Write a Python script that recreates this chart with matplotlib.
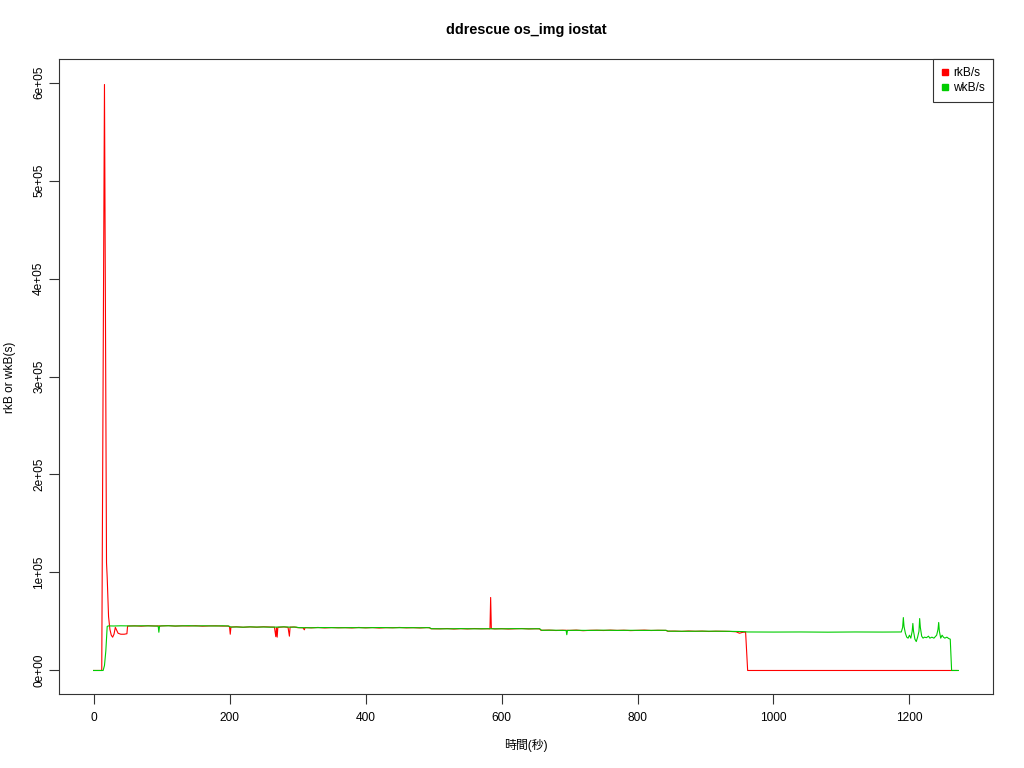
import matplotlib
matplotlib.use("Agg")
import matplotlib.pyplot as plt
from matplotlib.lines import Line2D
from matplotlib.ticker import FuncFormatter

plt.rcParams['font.family'] = ['Liberation Sans', 'Noto Sans CJK JP', 'DejaVu Sans']

title = "ddrescue os_img iostat"
xlabel = "時間(秒)"
ylabel = "rkB or wkB(s)"
series_names = ["rkB/s", "wkB/s"]
x_ticks = [0, 200, 400, 600, 800, 1000, 1200]
y_ticks = [0, 100000, 200000, 300000, 400000, 500000, 600000]

red_t = [0, 12, 16, 19, 20, 22, 24, 26, 28, 30, 32, 34, 36, 40, 45, 49, 50,
         60, 70, 80, 90, 100, 110, 120, 130, 140, 150, 160, 170, 180, 190, 198,
         200, 201, 202, 210, 220, 230, 240, 250, 260, 266, 268, 269, 270, 271, 280, 286, 288, 289, 295,
         300, 308, 310, 311, 320, 330, 340, 350, 360, 370, 380, 390, 400, 410, 420, 430, 440, 450, 460, 470, 480, 490, 494,
         496, 510, 520, 530, 540, 550, 560, 570, 580, 583, 584, 585, 590, 600, 610, 620, 630, 640, 650, 656,
         658, 670, 680, 690, 700, 710, 720, 730, 740, 750, 760, 770, 780, 790, 800, 810, 820, 830, 842,
         844, 855, 865, 875, 885, 895, 905, 915, 925, 935, 945, 950, 955, 959, 962, 1270]
red_v = [0, 0, 598000, 110000, 95000, 55000, 42000, 36000, 34000, 37000, 44000, 41000, 38000, 37000, 37000, 37500, 45300,
         45600, 45200, 45700, 45400, 45500, 45800, 45300, 45600, 45400, 45700, 45200, 45500, 45600, 45300, 45400,
         44400, 37000, 44300, 44600, 44100, 44500, 44200, 44600, 44300, 44200, 34500, 43800, 34000, 44000, 44500, 44000, 35000, 44200, 44400,
         43700, 43600, 41500, 43800, 43500, 43900, 43400, 43800, 43600, 43700, 43400, 43900, 43500, 43800, 43300, 43700, 43600, 43900, 43500, 43700, 43400, 43800, 43600,
         42600, 42500, 42800, 42300, 42700, 42400, 42800, 42500, 42600, 42500, 74500, 42800, 42400, 42700, 42300, 42600, 42800, 42400, 42600, 42500,
         41000, 41200, 40800, 41100, 40900, 41200, 40600, 41000, 41100, 40800, 41200, 40900, 41100, 40700, 41000, 41200, 40800, 41000, 40900,
         40100, 40200, 39900, 40300, 40000, 40200, 39800, 40100, 40000, 39900, 39500, 38000, 39000, 39200, 0, 0]

green_t = [0, 14, 16, 18, 20, 22, 30, 40, 50, 60, 70, 80, 90, 95, 96, 97, 100, 110, 120, 130, 140, 150, 160, 170, 180, 190, 199,
           202, 210, 220, 230, 240, 250, 260, 270, 280, 290, 298,
           302, 320, 340, 360, 380, 400, 420, 440, 460, 480, 494,
           497, 520, 540, 560, 580, 600, 620, 640, 656,
           659, 675, 690, 695, 696, 697, 710, 730, 750, 770, 790, 810, 830, 842,
           845, 870, 900, 930, 955, 962, 1000, 1040, 1080, 1120, 1160, 1188,
           1190, 1191, 1192, 1194, 1196, 1198, 1200, 1202, 1204, 1205, 1206, 1208, 1210, 1212, 1214, 1215, 1216,
           1218, 1220, 1222, 1225, 1228, 1230, 1233, 1236, 1240, 1242, 1243, 1244, 1246, 1248, 1250, 1252, 1255,
           1258, 1260, 1262, 1272]
green_v = [0, 0, 5000, 20000, 45000, 45500, 45400, 45600, 45500, 45400, 45600, 45500, 45400, 45300, 39000, 45200, 45500, 45600, 45400, 45500, 45700, 45400, 45600, 45500, 45400, 45600, 45300,
           44300, 44400, 44200, 44500, 44300, 44400, 44200, 44300, 44500, 44200, 44300,
           43700, 43600, 43800, 43600, 43700, 43600, 43800, 43600, 43700, 43600, 43700,
           42600, 42500, 42700, 42500, 42600, 42500, 42700, 42500, 42600,
           41000, 41100, 40900, 40800, 36500, 40900, 41000, 40900, 41100, 40900, 41000, 40900, 41000, 41000,
           40100, 40000, 40100, 40000, 39700, 39300, 39200, 39300, 39100, 39300, 39200, 39300,
           44000, 54000, 45000, 38000, 34000, 33000, 36000, 33000, 40000, 48000, 40000, 32000, 29500, 34000, 40000, 53000, 44000,
           35000, 33000, 34000, 33500, 35000, 33000, 34000, 33000, 36000, 42000, 49000, 40000, 33000, 36000, 34000, 33000, 34000,
           32500, 32000, 0, 0]

red_color = "#FF0000"
green_color = "#00CD00"

fig = plt.figure(figsize=(10.24, 7.68), dpi=100)
ax = fig.add_axes([59 / 1024, 1 - 694 / 768, (993 - 59) / 1024, (694 - 59) / 768])

ax.plot(red_t, red_v, color=red_color, lw=0.8)
ax.plot(green_t, green_v, color=green_color, lw=0.8)

xmin = min(min(red_t), min(green_t))
xmax = max(max(red_t), max(green_t))
ymin = min(min(red_v), min(green_v))
ymax = 600000
ax.set_xlim(xmin - 0.04 * (xmax - xmin), xmax + 0.04 * (xmax - xmin))
ax.set_ylim(ymin - 0.04 * (ymax - ymin), ymax + 0.04 * (ymax - ymin))

ax.set_xticks(x_ticks)
ax.set_yticks(y_ticks)


def sci(v, pos):
    if v == 0:
        return "0e+00"
    e = 0
    m = v
    while m >= 10:
        m /= 10
        e += 1
    return "%de+%02d" % (round(m), e)


ax.yaxis.set_major_formatter(FuncFormatter(sci))
ax.tick_params(axis='both', direction='out', length=7, width=0.8, labelsize=8.6, color='#333333')
ax.tick_params(axis='x', pad=6)
ax.tick_params(axis='y', pad=3)
for lab in ax.get_yticklabels():
    lab.set_rotation(90)
    lab.set_va('center')
for s in ax.spines.values():
    s.set_linewidth(0.8)
    s.set_color('#333333')

fig.text((59 + 993) / 2 / 1024, 1 - 30 / 768, title, ha='center', va='center', fontsize=10.4, fontweight='bold')
fig.text((59 + 993) / 2 / 1024, 1 - 745 / 768, xlabel, ha='center', va='center', fontsize=8.6)
fig.text(10 / 1024, 1 - 377 / 768, ylabel, ha='center', va='center', rotation=90, fontsize=8.6)

handles = [Line2D([], [], color=red_color, marker='s', ls='none', markersize=4),
           Line2D([], [], color=green_color, marker='s', ls='none', markersize=4)]
leg = ax.legend(handles, series_names, loc='upper right', borderaxespad=0, fancybox=False,
                edgecolor='#333333', framealpha=1, fontsize=8.6, handlelength=0.6,
                handletextpad=0.45, borderpad=0.65, labelspacing=0.28)
leg.get_frame().set_linewidth(0.8)

fig.savefig("out.png", dpi=100)
